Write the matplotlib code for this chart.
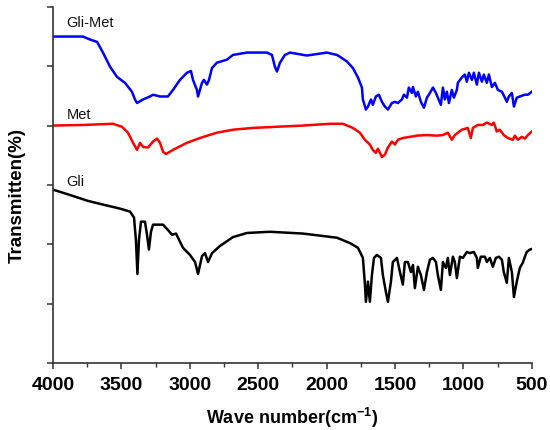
import numpy as np
import matplotlib
matplotlib.use("Agg")
import matplotlib.pyplot as plt
from matplotlib.ticker import MultipleLocator

# FTIR spectra (wavenumber, offset transmittance)
gli_met_wn = [4000, 3781, 3730, 3678, 3635, 3583, 3532, 3474, 3423, 3401, 3386, 3342, 3291, 3269,
              3218, 3160, 3123, 3072, 3021, 2992, 2977, 2948, 2940, 2911, 2897, 2875, 2860, 2838,
              2802, 2729, 2685, 2582, 2436, 2400, 2378, 2363, 2341, 2305, 2268, 2144, 1998, 1925,
              1903, 1852, 1808, 1771, 1742, 1735, 1713, 1698, 1676, 1662, 1640, 1618, 1596, 1574,
              1552, 1523, 1501, 1479, 1450, 1435, 1413, 1399, 1377, 1369, 1348, 1333, 1311, 1289,
              1267, 1245, 1223, 1201, 1187, 1165, 1150, 1136, 1121, 1106, 1085, 1070, 1048, 1041,
              1012, 990, 975, 960, 938, 924, 902, 887, 865, 851, 829, 814, 792, 770, 748, 719,
              697, 683, 668, 646, 631, 610, 588, 551, 529, 500]
gli_met_t = [5.50, 5.50, 5.45, 5.41, 5.23, 4.99, 4.82, 4.72, 4.57, 4.44, 4.38, 4.44, 4.49, 4.52,
             4.49, 4.49, 4.60, 4.77, 4.89, 4.92, 4.77, 4.60, 4.49, 4.72, 4.77, 4.69, 4.77, 4.97,
             5.06, 5.11, 5.19, 5.23, 5.23, 5.19, 4.99, 4.91, 5.06, 5.19, 5.23, 5.18, 5.23, 5.19,
             5.16, 5.08, 4.97, 4.81, 4.64, 4.44, 4.27, 4.32, 4.44, 4.35, 4.49, 4.52, 4.40, 4.32,
             4.27, 4.38, 4.40, 4.38, 4.44, 4.52, 4.47, 4.64, 4.55, 4.65, 4.49, 4.57, 4.40, 4.30,
             4.47, 4.55, 4.64, 4.55, 4.47, 4.35, 4.64, 4.44, 4.57, 4.38, 4.60, 4.47, 4.60, 4.72,
             4.81, 4.86, 4.74, 4.89, 4.77, 4.89, 4.69, 4.89, 4.74, 4.86, 4.72, 4.86, 4.65, 4.72,
             4.60, 4.57, 4.47, 4.40, 4.49, 4.55, 4.32, 4.47, 4.49, 4.52, 4.52, 4.57]

met_wn = [4000, 3781, 3562, 3496, 3452, 3415, 3386, 3364, 3342, 3306, 3269, 3240, 3218, 3196,
          3174, 3123, 3021, 2926, 2802, 2685, 2539, 2363, 2173, 1976, 1881, 1808, 1757, 1720,
          1684, 1662, 1640, 1625, 1596, 1574, 1552, 1523, 1501, 1479, 1443, 1391, 1340, 1267,
          1194, 1150, 1114, 1085, 1063, 1012, 968, 946, 931, 895, 858, 829, 792, 778, 756,
          734, 705, 675, 639, 624, 602, 573, 551, 529, 500]
met_t = [4.00, 4.01, 4.03, 3.98, 3.88, 3.71, 3.59, 3.71, 3.64, 3.63, 3.73, 3.78, 3.71, 3.56,
         3.52, 3.59, 3.71, 3.79, 3.88, 3.93, 3.96, 3.98, 4.00, 4.03, 4.03, 3.96, 3.88, 3.76,
         3.68, 3.59, 3.54, 3.61, 3.47, 3.51, 3.63, 3.73, 3.68, 3.76, 3.79, 3.81, 3.83, 3.84,
         3.83, 3.84, 3.88, 3.76, 3.84, 3.93, 3.96, 3.79, 3.96, 4.01, 4.01, 4.05, 4.01, 4.05, 3.90,
         3.93, 3.84, 3.79, 3.76, 3.83, 3.76, 3.81, 3.78, 3.84, 3.90]

gli_wn = [4000, 3876, 3744, 3620, 3510, 3437, 3408, 3394, 3383, 3372, 3357, 3328, 3313, 3299,
          3284, 3269, 3196, 3160, 3130, 3101, 3050, 2999, 2962, 2940, 2911, 2889, 2867, 2838,
          2780, 2685, 2582, 2414, 2173, 1925, 1830, 1771, 1735, 1720, 1713, 1698, 1684, 1669,
          1654, 1633, 1603, 1589, 1567, 1552, 1530, 1516, 1486, 1464, 1443, 1428, 1406, 1384,
          1369, 1355, 1333, 1311, 1289, 1267, 1245, 1223, 1201, 1187, 1165, 1150, 1128, 1114,
          1099, 1077, 1063, 1048, 1026, 1004, 975, 953, 924, 902, 895, 873, 843, 829, 807, 785,
          763, 741, 719, 705, 683, 668, 646, 631, 610, 588, 566, 551, 537, 515, 500]
gli_t = [2.92, 2.83, 2.73, 2.66, 2.60, 2.55, 2.45, 2.07, 1.50, 2.07, 2.38, 2.38, 2.16, 1.91,
         2.21, 2.33, 2.33, 2.24, 2.16, 2.18, 1.94, 1.82, 1.70, 1.50, 1.80, 1.85, 1.70, 1.85,
         1.97, 2.12, 2.19, 2.21, 2.18, 2.11, 2.02, 1.94, 1.77, 1.32, 1.03, 1.37, 1.03, 1.48,
         1.77, 1.82, 1.77, 1.48, 1.20, 1.03, 1.37, 1.70, 1.77, 1.53, 1.32, 1.70, 1.70, 1.53,
         1.65, 1.26, 1.62, 1.48, 1.23, 1.53, 1.74, 1.77, 1.70, 1.48, 1.23, 1.70, 1.60, 1.77,
         1.48, 1.79, 1.70, 1.43, 1.79, 1.77, 1.87, 1.85, 1.87, 1.77, 1.60, 1.79, 1.79, 1.70, 1.77, 1.62,
         1.77, 1.79, 1.74, 1.53, 1.35, 1.77, 1.53, 1.11, 1.37, 1.60, 1.69, 1.79, 1.87, 1.91, 1.92]

curve_names = ["Gli-Met", "Met", "Gli"]
label_pos = [(3900, 5.73), (3900, 4.18), (3900, 3.05)]

plt.rcParams['font.family'] = ['Liberation Sans', 'DejaVu Sans']
plt.rcParams['mathtext.fontset'] = 'custom'
plt.rcParams['mathtext.bf'] = 'Liberation Sans:bold'
plt.rcParams['mathtext.rm'] = 'Liberation Sans'

fig = plt.figure(figsize=(5.5, 4.3), dpi=100)
ax = fig.add_axes([0.0964, 0.156, 0.8706, 0.828])

ax.plot(gli_met_wn, gli_met_t, color='#0000ff', lw=1.8)
ax.plot(met_wn, met_t, color='#ff0000', lw=1.8)
ax.plot(gli_wn, gli_t, color='black', lw=1.8)

for name, (xw, yt) in zip(curve_names, label_pos):
    ax.text(xw, yt, name, fontsize=10.5, ha='left', va='center', color='#111111')

ax.set_xlim(4000, 500)
ax.set_ylim(0, 6)
ax.xaxis.set_major_locator(MultipleLocator(500))
ax.xaxis.set_minor_locator(MultipleLocator(250))
ax.yaxis.set_major_locator(MultipleLocator(1))
ax.set_yticklabels([])

for s in ['top', 'right']:
    ax.spines[s].set_visible(False)
for s in ['left', 'bottom']:
    ax.spines[s].set_linewidth(1.2)
    ax.spines[s].set_color('#333333')

ax.tick_params(axis='both', which='major', direction='out', length=4, width=1.1, color='#333333')
ax.tick_params(axis='x', which='minor', direction='out', length=3, width=1.0, color='#333333')
ax.tick_params(axis='x', labelsize=14, pad=6)
for lab in ax.get_xticklabels():
    lab.set_fontweight('bold')

ax.set_xlabel('Wave number(cm$^{\\mathbf{-1}}$)', fontsize=13, fontweight='bold', labelpad=9)
ax.set_ylabel('Transmitten(%)', fontsize=13.5, fontweight='bold')
ax.yaxis.set_label_coords(-0.056, 0.47)

fig.savefig('out.png', dpi=100)
